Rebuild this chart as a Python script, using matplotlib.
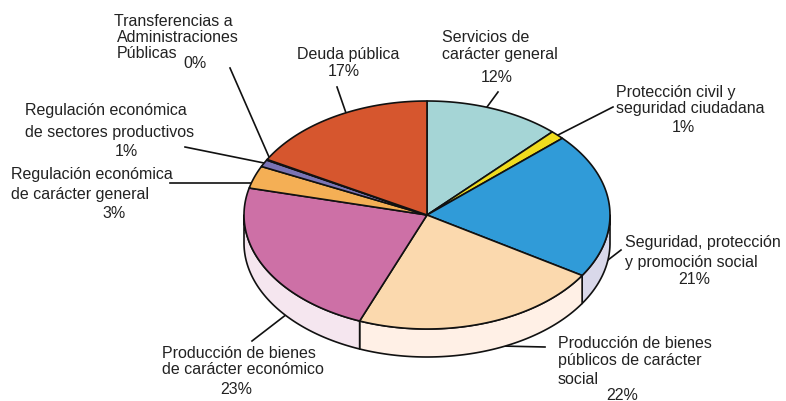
import numpy as np
import matplotlib
matplotlib.use('Agg')
import matplotlib.pyplot as plt
from matplotlib.patches import Polygon

plt.rcParams['font.family'] = ['Liberation Sans', 'DejaVu Sans']

# clockwise from the top
sectors = ['Servicios', 'Proteccion', 'Seguridad', 'Prod social', 'Prod economico',
           'Reg general', 'Reg sectores', 'Transferencias', 'Deuda']
values = [12.0, 1.25, 20.65, 22.1, 22.8, 3.2, 1.0, 0.1, 16.9]
top_colors = ['#a5d5d6', '#f0dc1e', '#309bd8', '#fbd9ae', '#cd70a6',
              '#f4af55', '#7a74b5', '#7a74b5', '#d6562e']
side_colors = ['#e6f3f3', '#fdf5c8', '#d9d8ea', '#fff0e6', '#f5e6ef',
               '#fcebd3', '#dddcec', '#dddcec', '#f7d9cf']

cx, cy = 427, 215
rx, ry = 183, 114
depth = 28
edge = '#111111'

# one entry per text line, as the lines are not aligned the same way in the original
left_lines = [
    ('Transferencias a', 114, 21),
    ('Administraciones', 117, 38),
    ('Públicas', 117, 54),
    ('Deuda pública', 297, 54),
    ('Regulación económica', 25, 111),
    ('de sectores productivos', 25, 132),
    ('Regulación económica', 11, 175),
    ('de carácter general', 11, 194),
    ('Servicios de', 442, 38),
    ('carácter general', 442, 55),
    ('Protección civil y', 616, 92),
    ('seguridad ciudadana', 616, 109),
    ('Seguridad, protección', 625, 243),
    ('y promoción social', 625, 263),
    ('Producción de bienes', 558, 343),
    ('públicos de carácter', 558, 361),
    ('social', 558, 380),
    ('Producción de bienes', 162, 353),
    ('de carácter económico', 162, 370),
]
pct_labels = [
    ('0%', 195, 63),
    ('17%', 344, 72),
    ('1%', 126, 152),
    ('3%', 114, 214),
    ('12%', 497, 78),
    ('1%', 683, 127),
    ('21%', 694, 279),
    ('22%', 622, 395),
    ('23%', 236, 390),
]
leaders = [
    ([230, 269], [68, 157]),
    ([337, 346], [87, 113]),
    ([498, 487], [92, 107]),
    ([613, 558], [107, 135]),
    ([185, 264], [147, 163]),
    ([170, 252], [183, 183]),
    ([621, 608], [250, 260]),
    ([252, 287], [341, 314]),
    ([500, 545], [346, 347]),
]

fig = plt.figure(figsize=(7.86, 4.01), dpi=100)
ax = fig.add_axes([0, 0, 1, 1])
ax.set_xlim(0, 786)
ax.set_ylim(401, 0)
ax.axis('off')

for xs, ys in leaders:
    ax.plot(xs, ys, color=edge, lw=1.2, zorder=1)

bounds = np.concatenate([[0], np.cumsum(values)]) / sum(values) * 2 * np.pi


def rim(t):
    return cx + rx * np.sin(t), cy - ry * np.cos(t)


# side wall, only the part of the rim facing the viewer
for i in range(len(values)):
    a = max(bounds[i], np.pi / 2)
    b = min(bounds[i + 1], 3 * np.pi / 2)
    if b <= a:
        continue
    t = np.linspace(a, b, 80)
    x, y = rim(t)
    px = np.concatenate([x, x[::-1]])
    py = np.concatenate([y, y[::-1] + depth])
    ax.add_patch(Polygon(np.column_stack([px, py]), closed=True, fc=side_colors[i],
                         ec=edge, lw=1.2, joinstyle='round', zorder=2))

# top face
for i in range(len(values)):
    t = np.linspace(bounds[i], bounds[i + 1], 80)
    x, y = rim(t)
    px = np.concatenate([[cx], x])
    py = np.concatenate([[cy], y])
    ax.add_patch(Polygon(np.column_stack([px, py]), closed=True, fc=top_colors[i],
                         ec=edge, lw=1.2, joinstyle='round', zorder=3))

for txt, x, y in left_lines:
    ax.text(x, y, txt, ha='left', va='center', fontsize=11.5, color='#222222', zorder=4)
for txt, x, y in pct_labels:
    ax.text(x, y, txt, ha='center', va='center', fontsize=11.5, color='#222222', zorder=4)

fig.savefig('out.png', dpi=100)
